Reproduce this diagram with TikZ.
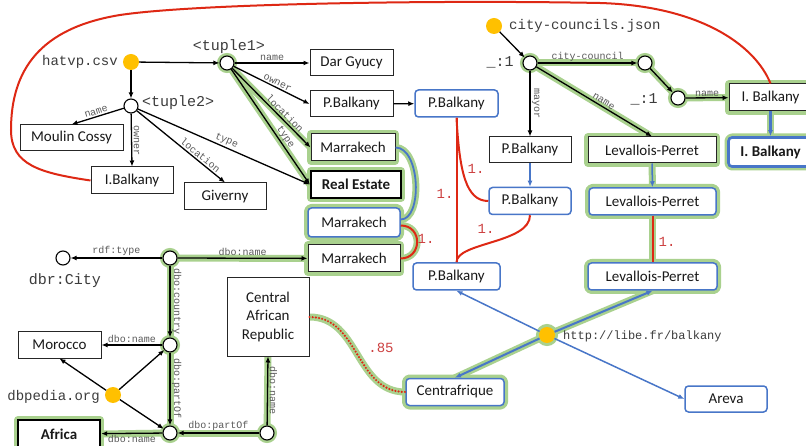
\documentclass[tikz,border=0pt]{standalone}
\usepackage{fontspec}
\setmainfont{Carlito}
\newfontfamily\monof{Liberation Mono}
\usetikzlibrary{arrows.meta,calc}
\pgfdeclarelayer{bg}
\pgfsetlayers{bg,main}
\definecolor{hgreen}{RGB}{169,209,142}
\definecolor{bblue}{RGB}{72,118,200}
\definecolor{rred}{RGB}{222,40,20}
\definecolor{ylw}{RGB}{255,192,0}
\definecolor{lgray}{RGB}{90,90,90}
\definecolor{lred}{RGB}{205,65,65}
\definecolor{dgray}{RGB}{60,60,60}
\begin{document}
\begin{tikzpicture}[x=1pt,y=-1pt,
  bx/.style={draw=black!85, line width=1pt, fill=white, inner sep=0pt, text=black!90, font=\fontsize{15}{15}\selectfont},
  sz/.style 2 args={minimum width=#1pt, minimum height=#2pt},
  bbx/.style={bx, draw=bblue, rounded corners=3.5pt, line width=1.5pt},
  hb/.style={preaction={draw=hgreen, line width=8pt, line join=round}},
  bold/.style={font=\fontsize{15}{15}\selectfont\bfseries},
  circ/.style={circle, draw=black, line width=1.1pt, fill=white, minimum size=14pt, inner sep=0pt},
  hc/.style={preaction={draw=hgreen, line width=6pt}},
  ydot/.style={circle, fill=ylw, minimum size=16pt, inner sep=0pt},
  e/.style={draw=black, line width=1.3pt, -{Latex[length=6pt,width=5pt]}},
  be/.style={draw=bblue, line width=1.5pt, -{Latex[length=6pt,width=5pt]}},
  rc/.style={draw=rred, line width=2pt},
  hl/.style={draw=hgreen, line width=7pt, line cap=round},
  lab/.style={font=\monof\fontsize{10}{10}\selectfont, text=lgray, inner sep=1.5pt},
  vlab/.style={lab, rotate=-90, anchor=south},
  mlab/.style={font=\monof\fontsize{14}{14}\selectfont, text=dgray, inner sep=0pt},
  mlabb/.style={font=\monof\fontsize{15}{15}\selectfont, text=dgray, inner sep=0pt},
  rlab/.style={font=\monof\fontsize{14}{14}\selectfont, text=lred, inner sep=0pt},
]
\path[use as bounding box] (0,0) rectangle (806,446);
\clip (0,0) rectangle (806,446);

% ---------- top-left (hatvp) ----------
\node[ydot] (hat) at (131,62) {};
\node[mlab, anchor=east] (hatl) at (118,62) {hatvp.csv};
\node[circ, hc] (t1) at (227,63) {};
\node[mlabb] (t1l) at (229,47) {<tuple1>};
\node[circ] (t2) at (131,106) {};
\node[mlabb, anchor=west] (t2l) at (142,103) {<tuple2>};
\node[bx, sz={83}{26}] (dar) at (351.5,63) {Dar Gyucy};
\node[bx, sz={83}{26}] (pb1) at (351.5,104) {P.Balkany};
\node[bx, hb, sz={84}{27}] (mk1) at (353,147.5) {Marrakech};
\node[bx, hb, bold, draw=black, line width=2.4pt, sz={90}{27}] (re) at (356,184.5) {Real Estate};
\node[bx, sz={103}{26}] (mc) at (71.5,138) {Moulin Cossy};
\node[bx, sz={82}{27}] (ib1) at (132,180.5) {I.Balkany};
\node[bx, sz={82}{27}] (giv) at (225,196.5) {Giverny};
\node[bbx, hb, sz={92}{29}] (mkb) at (354,222.5) {Marrakech};
\node[bx, hb, sz={92}{27}] (mk2) at (354,258.5) {Marrakech};

% ---------- right (city councils) ----------
\node[ydot] (cc) at (494,26) {};
\node[mlab, anchor=west] (ccl) at (509,26) {city-councils.json};
\node[circ, hc] (j1) at (530,63) {};
\node[mlabb] (j1l) at (500,62) {\_:1};
\node[circ, hc] (c2) at (645,63) {};
\node[circ, hc] (c3) at (678,98) {};
\node[mlabb] (c3l) at (644,99) {\_:1};
\node[bx, hb, sz={83}{27}] (ib2) at (770.5,97.5) {I. Balkany};
\node[bbx, hb, bold, line width=2.6pt, sz={84}{29}] (ib3) at (770.5,152) {I. Balkany};
\node[bbx, sz={83}{27}] (pbt) at (456.5,103.5) {P.Balkany};
\node[bx, sz={82}{26}] (pbm) at (530,150) {P.Balkany};
\node[bx, hb, sz={128}{26}] (lp1) at (652,150) {Levallois-Perret};
\node[bbx, sz={82}{27}] (pbb) at (530,201) {P.Balkany};
\node[bbx, hb, sz={127}{27}] (lpb) at (652.5,201.5) {Levallois-Perret};
\node[bbx, sz={87}{27}] (pbc) at (456.5,276.5) {P.Balkany};
\node[bbx, hb, sz={129}{27}] (lpc) at (652.5,276.5) {Levallois-Perret};
\node[ydot, hc] (libe) at (547,335) {};
\node[font=\monof\fontsize{12}{12}\selectfont, text=dgray, inner sep=0pt, anchor=west] (libel) at (563,336) {http://libe.fr/balkany};
\node[bbx, hb, sz={98}{27}] (cf) at (455,392) {Centrafrique};
\node[bbx, sz={82}{26}] (ar) at (726,399) {Areva};

% ---------- bottom-left (dbpedia) ----------
\node[circ] (dbr) at (63,258) {};
\node[mlabb] (dbrl) at (65,281) {dbr:City};
\node[circ, hc] (d1) at (170,258) {};
\node[circ, hc] (d2) at (170,345) {};
\node[circ, hc] (d3) at (170,433) {};
\node[circ, hc] (d4) at (267,433) {};
\node[bx, sz={83}{26}] (mor) at (59.5,345) {Morocco};
\node[bx, hb, bold, draw=black, line width=2.4pt, sz={82}{28}] (afr) at (59,434) {Africa};
\node[bx, sz={82}{78}, align=center, font=\fontsize{15}{18.5}\selectfont] (car) at (268,317) {Central\\African\\Republic};
\node[ydot] (dbp) at (113,395) {};
\node[mlab, anchor=east] (dbpl) at (100,397) {dbpedia.org};

% ---------- halos (background) ----------
\begin{pgfonlayer}{bg}
  \fill[white] (0,0) rectangle (806,446);
  \draw[hl] (t1.center) -- (mk1.west);
  \draw[hl] (t1.center) -- (re.west);
  \draw[hl] (j1.center) -- (c2.center);
  \draw[hl] (c2.center) -- (c3.center);
  \draw[hl] (c3.center) -- (ib2.west);
  \draw[hl] (j1.center) -- (lp1.north);
  \draw[hl] (lp1) -- (lpb);
  \draw[hl] (lpb) -- (lpc);
  \draw[hl] (ib2) -- (ib3);
  \draw[hl] (libe.center) -- (lpc.south);
  \draw[hl] (libe.center) -- (cf.north);
  \draw[hl] (mk1.east) .. controls +(25,0) and +(22,0) .. ($(mkb.east)+(0,-3)$);
  \draw[hl] ($(mkb.east)+(0,3)$) .. controls +(22,0) and +(22,0) .. (mk2.east);
  \draw[hl] (car.east) .. controls +(50,0) and +(-50,0) .. (cf.west);
  \draw[hl] (d1.center) -- (mk2.west);
  \draw[hl] (d1.center) -- (d2.center);
  \draw[hl] (d2.center) -- (d3.center);
  \draw[hl] (d3.center) -- (afr.east);
  \draw[hl] (d4.center) -- (d3.center);
  \draw[hl] (d4.center) -- (car.south);
\end{pgfonlayer}

% ---------- black edges ----------
\draw[e] (hat) -- (t1);
\draw[e] (hat) -- (t2);
\draw[e] (t1) -- node[lab, above, sloped] {name} (dar);
\draw[e] (t1) -- node[lab, above, sloped, pos=0.55] {owner} (pb1.west);
\draw[e] (t1) -- node[lab, above, sloped, pos=0.62] {location} (mk1.west);
\draw[e] (t1) -- node[lab, above, sloped, pos=0.62] {type} (re.west);
\draw[e] (t2) -- node[lab, above, sloped] {name} (mc.north);
\draw[e] (t2) -- node[vlab] {owner} (ib1.north);
\draw[e] (t2) -- node[lab, above, sloped, pos=0.68] {location} (giv.north);
\draw[e] (t2) -- node[lab, above, sloped] {type} (re.west);
\draw[e] (pb1) -- (pbt);

\draw[e] (cc) -- (j1);
\draw[e] (j1) -- node[lab, above, inner sep=0.5pt] {city-council} (c2);
\draw[e] (c2) -- (c3);
\draw[e] (c3) -- node[lab, above, inner sep=0.5pt] {name} (ib2);
\draw[e] (j1) -- node[vlab] {mayor} (pbm);
\draw[e] (j1) -- node[lab, above, sloped, pos=0.56] {name} (lp1.north);

\draw[e] (d1) -- node[lab, above] {rdf:type} (dbr);
\draw[e] (d1) -- node[lab, above] {dbo:name} (mk2);
\draw[e] (d1) -- node[vlab] {dbo:country} (d2);
\draw[e] (d2) -- node[lab, above] {dbo:name} (mor);
\draw[e] (d2) -- node[vlab] {dbo:partOf} (d3);
\draw[e] (d3) -- node[lab, below] {dbo:name} (afr);
\draw[e] (d4) -- node[lab, above] {dbo:partOf} (d3);
\draw[e] (d4) -- node[vlab] {dbo:name} (car.south);
\draw[e] (dbp) -- (d2);
\draw[e] (dbp) -- (d3);
\draw[e] (dbp) -- (mor.south);

% ---------- blue edges ----------
\draw[be] (pbm) -- (pbb);
\draw[be] (lp1) -- (lpb);
\draw[be, line width=3pt] (ib2) -- (ib3);
\draw[be] (libe) -- (pbc.south);
\draw[be, line width=2pt] (libe) -- (lpc.south);
\draw[be, line width=2pt] (libe) -- (cf.north);
\draw[be] (libe) -- (ar.west);
\draw[draw=bblue, line width=1.8pt] (mk1.east) .. controls +(25,0) and +(22,0) .. ($(mkb.east)+(0,-3)$);

% ---------- red links ----------
\draw[rc] (ib1.west) .. controls (40,173) and (11,165) .. (11,130)
   .. controls (11,70) and (40,28) .. (120,15)
   .. controls (200,3) and (450,0) .. (600,3)
   .. controls (700,6) and (755,45) .. (ib2.north);
\draw[rc] (pbt.south) -- (pbc.north);
\draw[rc] (pbt.south) .. controls +(3,55) and +(-22,0) .. (pbb.west);
\draw[rc] (pbb.south) .. controls +(0,28) and +(0,-20) .. (pbc.north);
\draw[rc] (lpb.south) -- (lpc.north);
\draw[rc] ($(mkb.east)+(0,3)$) .. controls +(22,0) and +(22,0) .. (mk2.east);
\draw[draw=rred, line width=2.4pt, line cap=round, dash pattern=on 0pt off 3.2pt] (car.east) .. controls +(50,0) and +(-50,0) .. (cf.west);

\node[rlab] at (445,194) {1.};
\node[rlab] at (476,169) {1.};
\node[rlab] at (486,229) {1.};
\node[rlab] at (426,239) {1.};
\node[rlab] at (667,242) {1.};
\node[rlab] at (381,348) {.85};
\end{tikzpicture}
\end{document}
